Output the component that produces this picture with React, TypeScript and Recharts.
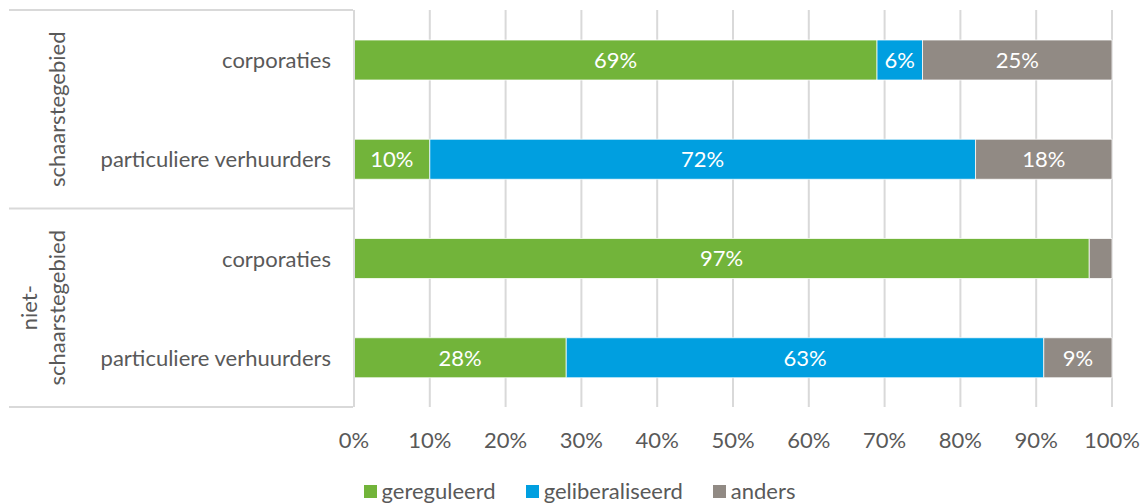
import { BarChart, Bar, XAxis, YAxis, CartesianGrid, LabelList } from "recharts";

const categories = ["corporaties", "particuliere verhuurders", "corporaties", "particuliere verhuurders"];
const groups = ["schaarstegebied", "schaarstegebied", "niet-schaarstegebied", "niet-schaarstegebied"];
const gereguleerd = [69, 10, 97, 28];
const geliberaliseerd = [6, 72, 0, 63];
const anders = [25, 18, 3, 9];
const xTicks = [0, 10, 20, 30, 40, 50, 60, 70, 80, 90, 100];

const SERIES = [
  { key: "gereguleerd", label: "gereguleerd", color: "#72b43a" },
  { key: "geliberaliseerd", label: "geliberaliseerd", color: "#009fe0" },
  { key: "anders", label: "anders", color: "#918a84" },
];

const data = categories.map((c, i) => ({
  id: `${groups[i]}-${c}`,
  gereguleerd: gereguleerd[i],
  geliberaliseerd: geliberaliseerd[i],
  anders: anders[i],
}));

const FONT = "Lato, 'Open Sans', sans-serif";
const TEXT = "#595959";
const GRID = "#d9d9d9";
const W = 1141;
const H = 504;
const TOP = 10;
const BOTTOM = 407;
const LEFT = 354;
const BAND = (BOTTOM - TOP) / categories.length;

function CategoryTick({ x, y, index }: any) {
  const lines: React.ReactNode[] = [];
  const first = index === 0 || groups[index] !== groups[index - 1];
  if (first) {
    const size = groups.filter((g) => g === groups[index]).length;
    const top = y - BAND / 2;
    const bottom = top + size * BAND;
    const mid = (top + bottom) / 2;
    if (index === 0) {
      lines.push(<line key="t" x1={9} x2={LEFT - 1} y1={top} y2={top} stroke={GRID} strokeWidth={2} />);
    }
    lines.push(<line key="b" x1={9} x2={LEFT - 1} y1={bottom} y2={bottom} stroke={GRID} strokeWidth={2} />);
    const parts = groups[index] === "niet-schaarstegebied" ? ["niet-", "schaarstegebied"] : [groups[index]];
    parts.forEach((p, k) => {
      const gx = 56 - (parts.length - 1 - k) * 28;
      lines.push(
        <text
          key={"g" + k}
          x={gx}
          y={mid}
          transform={`rotate(-90 ${gx} ${mid})`}
          textAnchor="middle"
          dominantBaseline="central"
          fill={TEXT}
          fontSize={22}
          fontFamily={FONT}
        >
          {p}
        </text>
      );
    });
  }
  return (
    <g>
      {lines}
      <text x={331} y={y} textAnchor="end" dominantBaseline="central" fill={TEXT} fontSize={22} fontFamily={FONT}>
        {categories[index]}
      </text>
    </g>
  );
}

function PctTick({ x, y, payload }: any) {
  return (
    <text x={x} y={BOTTOM + 32} textAnchor="middle" dominantBaseline="central" fill={TEXT} fontSize={22} fontFamily={FONT}>
      {payload.value}%
    </text>
  );
}

export default function App() {
  return (
    <div style={{ position: "relative", width: W, height: H }}>
      <style>{`body{margin:0}`}</style>
      <BarChart
        width={W}
        height={H}
        data={data}
        layout="vertical"
        margin={{ top: TOP, right: W - 1112, left: 0, bottom: 0 }}
        barSize={40}
      >
        <CartesianGrid horizontal={false} stroke={GRID} strokeWidth={2} />
        <XAxis
          type="number"
          domain={[0, 100]}
          ticks={xTicks}
          height={H - BOTTOM}
          axisLine={false}
          tickLine={false}
          tick={<PctTick />}
          interval={0}
        />
        <YAxis
          type="category"
          dataKey="id"
          width={LEFT}
          axisLine={{ stroke: GRID, strokeWidth: 2 }}
          tickLine={false}
          tick={<CategoryTick />}
          interval={0}
        />
        {SERIES.map((s) => (
          <Bar key={s.key} dataKey={s.key} stackId="a" fill={s.color} stroke="#ffffff" strokeWidth={0.75} isAnimationActive={false}>
            <LabelList
              dataKey={s.key}
              position="center"
              fill="#ffffff"
              fontSize={22}
              fontFamily={FONT}
              formatter={(v: any) => (v >= 5 ? `${v}%` : "")}
            />
          </Bar>
        ))}
      </BarChart>
      <div
        style={{
          position: "absolute",
          top: 479,
          left: 0,
          width: W,
          display: "flex",
          justifyContent: "center",
          gap: 30,
          fontFamily: FONT,
          fontSize: 22,
          color: TEXT,
          paddingLeft: 18,
          boxSizing: "border-box",
        }}
      >
        {SERIES.map((s) => (
          <div key={s.key} style={{ display: "flex", alignItems: "center", gap: 5 }}>
            <div style={{ width: 13, height: 13, backgroundColor: s.color }} />
            <span style={{ lineHeight: "24px" }}>{s.label}</span>
          </div>
        ))}
      </div>
    </div>
  );
}
